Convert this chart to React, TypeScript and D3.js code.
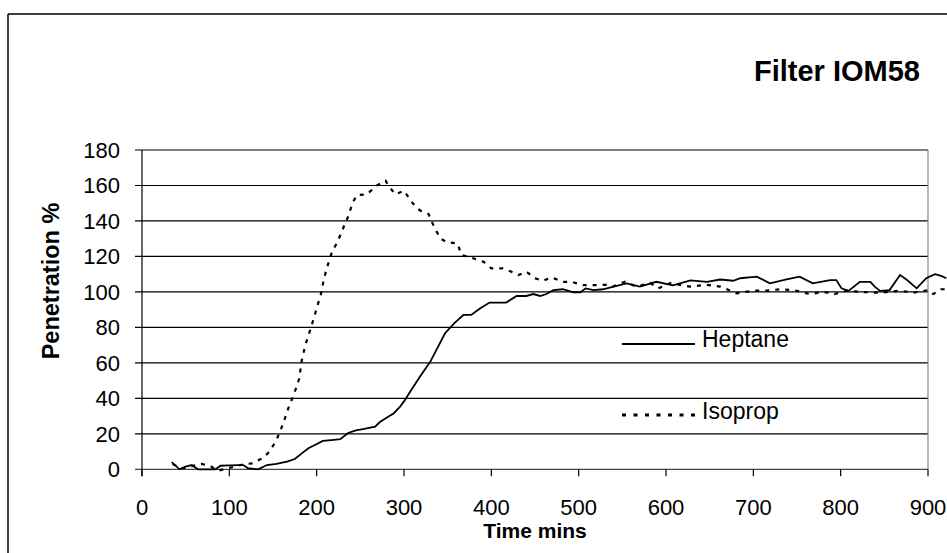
import React from "react";
import * as d3 from "d3";

const heptaneX = [34,43,50,57,64,75,84,90,100,110,116,121,133,143,154,166,175,184,191,198,207,217,227,236,245,253,267,272,280,288,295,301,307,318,330,341,347,358,368,377,387,398,417,429,440,448,456,463,471,482,494,502,508,517,528,540,555,570,589,608,628,647,662,677,685,704,719,738,753,768,788,795,801,809,822,834,839,845,856,868,876,887,898,908,915,921];
const heptaneY = [4,0,1.5,2.4,0,0,0,2,2.2,2.3,2.4,0.7,0,2.4,3,4.3,5.8,9.4,12,13.7,16,16.5,17,20.5,22,22.7,24,26.5,29,31.5,35,39,43.7,52,60.6,71,76.7,82.6,87,87,90.7,94,94,97.7,97.7,98.8,97.7,98.8,101,101.5,99.8,99.8,102,101,101.5,103,104.8,103,105.7,103.7,106.5,105.7,107,106.3,107.7,108.6,104.8,107,108.6,104.8,106.7,106.7,102,100.6,105.7,105.7,103,100.6,101,109.5,106.7,102,107.7,110,109,107.7];

const isopropX = [35,45,55,68,78,87,97,106,116,127,139,146,154,161,168,175,180,183,187,192,196,200,205,208,212,217,225,231,236,241,246,257,262,269,279,282,290,300,310,318,328,335,342,349,361,366,379,391,400,413,421,431,440,450,459,469,482,492,505,519,532,539,553,566,582,591,605,616,627,646,662,681,700,715,731,746,765,780,793,807,822,845,868,883,900,906,915,922];
const isopropY = [3,0.5,1.5,3,1.9,-0.8,0.5,1.5,2.8,3.4,6.6,10,16.5,25,35,43.7,51,61.6,70,77.6,84,90.7,99,106.7,114,121.7,129.6,136.7,142.4,150,154.6,155,157,160,162.7,160,155,157,150,146,144,136,130,128,127.4,120.8,119,117,113.3,113.3,111.8,109.5,111.4,107.7,106.3,108.2,105.7,105.7,103.8,103.8,104,103,105.7,103,105,102,105,104,103,104,103,99.2,100.7,100.7,101.5,101,98.8,100,98.8,100.7,100,99.5,100.7,99.5,101,98.8,101.5,101.5];

const xTicks = [0,100,200,300,400,500,600,700,800,900];
const yTicks = [0,20,40,60,80,100,120,140,160,180];
const seriesNames = ["Heptane","Isoprop"];
const titleText = "Filter IOM58";
const xTitle = "Time mins";
const yTitle = "Penetration %";

const FONT = "'Liberation Sans', Arial, sans-serif";

export default function App() {
  const x = d3.scaleLinear().domain([0, 900]).range([142, 928]);
  const y = d3.scaleLinear().domain([0, 180]).range([469.3, 150]);
  const line = d3.line<[number, number]>().x(d => x(d[0])).y(d => y(d[1]));
  const hep: [number, number][] = heptaneX.map((v, i) => [v, heptaneY[i]]);
  const iso: [number, number][] = isopropX.map((v, i) => [v, isopropY[i]]);

  return (
    <svg width={947} height={553} style={{ position: "absolute", left: 0, top: 0, background: "#fff" }} fontFamily={FONT}>
      <rect x={0} y={0} width={947} height={553} fill="#fff" />
      {/* outer frame */}
      <line x1={8} y1={14} x2={947} y2={14} stroke="#000" strokeWidth={1.5} />
      <line x1={8} y1={14} x2={8} y2={553} stroke="#000" strokeWidth={1.5} />
      {/* gridlines */}
      {yTicks.map(t => (
        <line key={"g" + t} x1={135} x2={928} y1={y(t)} y2={y(t)} stroke={t === 0 ? "#444" : "#000"} strokeWidth={1.2} />
      ))}
      {/* plot right border */}
      <line x1={928} x2={928} y1={y(180)} y2={y(0)} stroke="#888" strokeWidth={1.2} />
      {/* y axis */}
      <line x1={142} x2={142} y1={y(180)} y2={y(0) + 7} stroke="#000" strokeWidth={1.2} />
      {xTicks.map(t => (
        <line key={"xt" + t} x1={x(t)} x2={x(t)} y1={y(0)} y2={y(0) + 7} stroke="#000" strokeWidth={1.2} />
      ))}
      {yTicks.map(t => (
        <text key={"yl" + t} x={120} y={y(t)} dy="0.35em" textAnchor="end" fontSize={22} fill="#000">{t}</text>
      ))}
      {xTicks.map(t => (
        <text key={"xl" + t} x={x(t)} y={507} dy="0.35em" textAnchor="middle" fontSize={22} fill="#000">{t}</text>
      ))}
      <text x={(x(0) + x(900)) / 2} y={531} dy="0.35em" textAnchor="middle" fontSize={21} fontWeight="bold">{xTitle}</text>
      <text transform={`translate(51,281) rotate(-90)`} dy="0.35em" textAnchor="middle" fontSize={23.5} fontWeight="bold">{yTitle}</text>
      <text x={920} y={71} dy="0.35em" textAnchor="end" fontSize={29} fontWeight="bold">{titleText}</text>
      {/* series */}
      <path d={line(hep) || ""} fill="none" stroke="#000" strokeWidth={1.8} />
      <path d={line(iso) || ""} fill="none" stroke="#000" strokeWidth={2.2} strokeDasharray="4 6" />
      {/* legend */}
      <line x1={622} x2={695} y1={344} y2={344} stroke="#000" strokeWidth={1.8} />
      <text x={702} y={339} dy="0.35em" fontSize={23}>{seriesNames[0]}</text>
      <line x1={622} x2={698} y1={415} y2={415} stroke="#000" strokeWidth={3} strokeDasharray="4 7.5" />
      <text x={702} y={411} dy="0.35em" fontSize={23}>{seriesNames[1]}</text>
    </svg>
  );
}
